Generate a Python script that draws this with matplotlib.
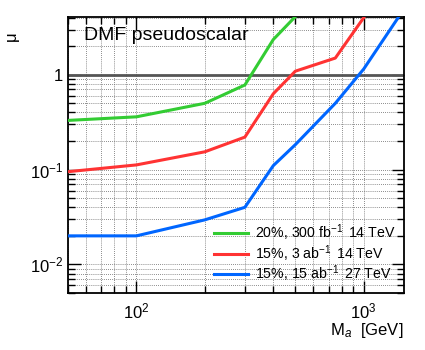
import math
import matplotlib
matplotlib.use("Agg")
import matplotlib.pyplot as plt
from matplotlib.ticker import LogLocator, FixedLocator, FuncFormatter, NullFormatter

plt.rcParams['font.family'] = ['Liberation Sans', 'DejaVu Sans']
plt.rcParams['mathtext.fontset'] = 'custom'
plt.rcParams['mathtext.rm'] = 'Liberation Sans'
plt.rcParams['mathtext.it'] = 'Liberation Sans:italic'
plt.rcParams['mathtext.bf'] = 'Liberation Sans:bold'

# Data
mass_green = [50, 100, 200, 300, 400, 500]
mu_green = [0.33, 0.36, 0.50, 0.78, 2.35, 4.1]
mass_red = [50, 100, 200, 300, 400, 500, 750, 1000]
mu_red = [0.095, 0.112, 0.154, 0.22, 0.63, 1.09, 1.5, 4.0]
mass_blue = [50, 100, 200, 300, 400, 500, 750, 1000, 1500]
mu_blue = [0.020, 0.020, 0.0295, 0.040, 0.110, 0.183, 0.50, 1.15, 4.9]
labels = ["20%, 300 fb$^{-1}\\,$ 14 TeV", "15%, 3 ab$^{-1}\\,$ 14 TeV", "15%, 15 ab$^{-1}\\,$ 27 TeV"]
colors = ["#33cc33", "#ff3333", "#0066ff"]

fig = plt.figure(figsize=(4.25, 3.5), dpi=100)
ax = fig.add_axes([0.16, 0.163, 0.79, 0.788])
ax.set_xscale('log')
ax.set_yscale('log')
ax.set_xlim(50, 1500)
ax.set_ylim(0.005, 4.05)

ax.xaxis.set_major_locator(FixedLocator([100, 1000]))
ax.xaxis.set_minor_locator(LogLocator(base=10, subs=range(2, 10)))
ax.yaxis.set_major_locator(FixedLocator([0.01, 0.1, 1]))
ax.yaxis.set_minor_locator(LogLocator(base=10, subs=range(2, 10)))
ax.xaxis.set_minor_formatter(NullFormatter())
ax.yaxis.set_minor_formatter(NullFormatter())

def fmt(v, pos):
    if abs(v - 1) < 1e-9:
        return "1"
    e = int(round(math.log10(v)))
    return "$10^{%d}$" % e

ax.xaxis.set_major_formatter(FuncFormatter(fmt))
ax.yaxis.set_major_formatter(FuncFormatter(fmt))

ax.grid(True, which='both', linestyle=(0, (1, 1.5)), color='#666666', linewidth=0.6)
ax.axhline(1.0, color='#555555', linewidth=2.0, zorder=2)

for xs, ys, c, l in zip([mass_green, mass_red, mass_blue], [mu_green, mu_red, mu_blue], colors, labels):
    ax.plot(xs, ys, color=c, linewidth=2.2, label=l, zorder=3)

ax.tick_params(which='both', direction='in', top=True, right=True, labelsize=12)
ax.tick_params(which='major', length=9, width=1)
ax.tick_params(which='minor', length=5, width=1)
ax.tick_params(axis='x', pad=6)
for s in ax.spines.values():
    s.set_linewidth(1.3)

ax.set_xlabel("M$_{a}$  [GeV]", fontsize=12, loc='right', labelpad=0)
ax.set_ylabel("μ", fontsize=12)
ax.yaxis.set_label_coords(-0.145, 0.93)

ax.text(59, 2.6, "DMF pseudoscalar", fontsize=14, va='center', zorder=5)

leg = ax.legend(loc='lower right', bbox_to_anchor=(1.0, 0.0), frameon=False,
                fontsize=10.2, handlelength=2.4, handletextpad=0.5, labelspacing=0.0,
                borderaxespad=0.2)

fig.savefig("out.png", dpi=100)
